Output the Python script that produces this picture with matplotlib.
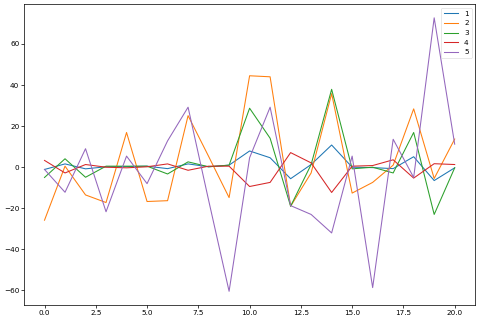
import numpy as np
import matplotlib
matplotlib.use('Agg')
import matplotlib.pyplot as plt

x = np.arange(21)

s1 = [-1.1, 1.6, -0.8, 0.2, 0.3, 0.5, -0.7, 1.6, 0.2, 1.0, 7.9,
      4.6, -5.6, 1.3, 10.8, 0.0, -0.2, -0.7, 5.1, -6.5, -0.3]
s2 = [-25.8, 0.5, -13.5, -17.2, 16.9, -16.7, -16.3, 25.1, 5.3, -14.8, 44.5,
      44.0, -19.0, -2.8, 35.8, -12.6, -7.4, 1.0, 28.4, -5.5, 13.7]
s3 = [-5.0, 4.1, -4.9, 0.5, 0.5, 0.5, -3.3, 2.6, 0.2, 1.0, 28.7,
      14.1, -19.0, 1.3, 37.9, -0.8, 0.0, -2.8, 16.9, -23.0, -0.3]
s4 = [3.3, -2.8, 1.3, 0.0, -0.3, 0.2, 1.6, -1.5, 0.5, 0.5, -9.4,
      -7.4, 7.1, 2.1, -12.3, 0.5, 0.8, 3.6, -5.3, 1.7, 1.3]
s5 = [-1.1, -12.2, 9.0, -21.7, 5.4, -8.0, 12.8, 29.2, -16.0, -60.4, 4.6,
      29.2, -18.7, -23.0, -32.0, 5.4, -58.6, 13.6, -5.0, 72.7, 11.2]

labels = ['1', '2', '3', '4', '5']

plt.rcParams['font.size'] = 13
plt.rcParams['lines.linewidth'] = 1.9
plt.rcParams['axes.linewidth'] = 1.3
plt.rcParams['xtick.major.width'] = 1.3
plt.rcParams['ytick.major.width'] = 1.3
plt.rcParams['xtick.major.size'] = 5
plt.rcParams['ytick.major.size'] = 5

fig = plt.figure(figsize=(12, 8), dpi=40)
ax = fig.add_axes([0.05, 0.047, 0.94, 0.94])
for s, lab in zip([s1, s2, s3, s4, s5], labels):
    ax.plot(x, s, label=lab)
ax.legend(loc='upper right')
fig.savefig('out.png', dpi=40)
